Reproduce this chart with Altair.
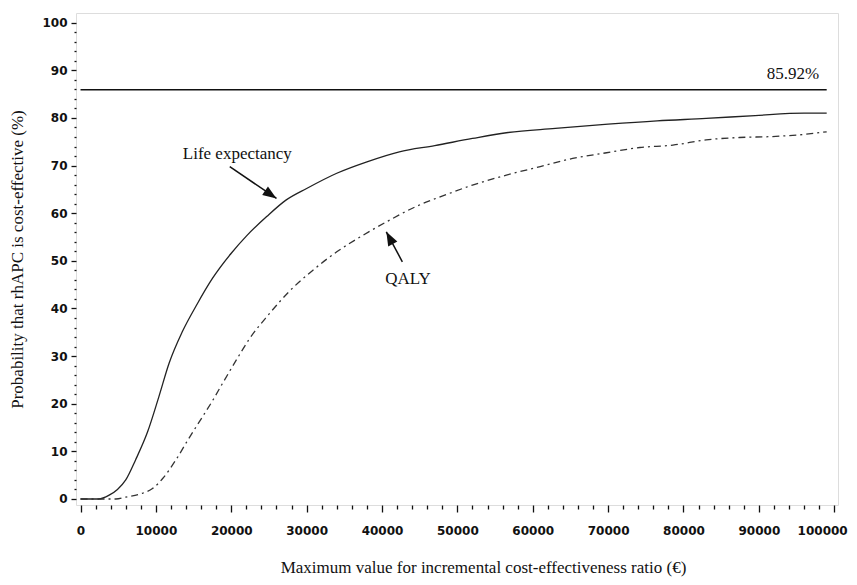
import altair as alt
import pandas as pd

# Life expectancy curve (solid)
le_x = [0, 2400, 3800, 4900, 6000, 7300, 8900, 10400, 11750, 13500, 15500, 17500, 20000, 22000,
        24700, 27300, 30000, 34000, 38000, 42300, 47000, 52000, 56500, 63000, 70000, 76500,
        83000, 89500, 96000, 99000]
le_y = [0, 0, 0.8, 2.0, 4.0, 8.2, 14.1, 21.5, 28.5, 35.1, 41.0, 46.3, 51.6, 55.2,
        59.3, 62.8, 65.2, 68.4, 70.8, 72.9, 74.2, 75.7, 76.9, 77.8, 78.7, 79.4,
        79.9, 80.5, 81.0, 81.0]

# QALY curve (dash-dot)
q_x = [0, 4700, 6000, 8200, 9550, 10900, 12650, 14400, 16200, 17500, 18850, 20600, 22400, 25000,
       27700, 30800, 34000, 37500, 40600, 44500, 48500, 52000, 56500, 61000, 65300, 69800,
       74200, 78600, 83000, 87400, 91800, 96300, 99000]
q_y = [0, 0, 0.4, 1.2, 2.2, 4.3, 8.2, 12.8, 17.3, 20.6, 24.3, 29.0, 33.6, 38.8,
       43.6, 48.0, 51.9, 55.4, 58.2, 61.4, 63.9, 65.9, 68.0, 69.8, 71.5, 72.7,
       73.8, 74.3, 75.4, 75.9, 76.1, 76.6, 77.1]

# reference level
ref_value = 85.92
ref_x = [0, 99000]
ref_label = "85.92%"

# annotations (data units)
ann_text = ["Life expectancy", "QALY", ref_label]
ann_x = [20800, 43450, 98000]
ann_y = [72.4, 46.1, 89.2]
ann_align = ["center", "center", "right"]

arrow_tail_x = [19800, 42700]
arrow_tail_y = [69.8, 49.8]
arrow_tip_x = [26000, 40570]
arrow_tip_y = [63.1, 56.1]
arrow_angle = [124, 332]

x_ticks = list(range(0, 100001, 2000))
y_ticks = list(range(0, 101, 2))

xscale = alt.Scale(domain=[-600, 100500], nice=False, zero=False)
yscale = alt.Scale(domain=[-1.26, 102.04], nice=False, zero=False)

TICK_FONT = "DejaVu Sans"
TEXT_FONT = "Liberation Serif"

xaxis = alt.Axis(
    values=x_ticks,
    labelExpr="datum.value % 10000 === 0 ? datum.label : ''",
    format="d",
    tickSize={"condition": {"test": "datum.value % 10000 === 0", "value": 7}, "value": 4},
    tickColor="#111", tickWidth=1.3,
    labelFont=TICK_FONT, labelFontWeight="bold", labelFontSize=12, labelColor="#111",
    labelAlign={"condition": {"test": "datum.value === 100000", "value": "right"}, "value": "center"},
    labelOffset={"condition": {"test": "datum.value === 100000", "value": 13}, "value": 0},
    labelPadding=13, labelOverlap=False, labelFlush=False, labelBound=False,
    domain=False, grid=False,
    title="Maximum value for incremental cost-effectiveness ratio (€)",
    titleFont=TEXT_FONT, titleFontSize=17, titleFontWeight="normal", titleColor="#111",
    titleBaseline="alphabetic", titleY=67, titleX=407, titleAlign="center",
)
yaxis = alt.Axis(
    values=y_ticks,
    labelExpr="datum.value % 10 === 0 ? datum.label : ''",
    format="d",
    tickSize={"condition": {"test": "datum.value % 10 === 0", "value": 5}, "value": 2},
    tickColor="#111", tickWidth=1.3,
    labelFont=TICK_FONT, labelFontWeight="bold", labelFontSize=12, labelColor="#111",
    labelPadding=4, labelOverlap=False, labelFlush=False, labelBound=False,
    domain=False, grid=False,
    title="Probability that rhAPC is cost-effective (%)",
    titleFont=TEXT_FONT, titleFontSize=17, titleFontWeight="normal", titleColor="#111",
    titleX=-50, titleY=246, titleAngle=-90, titleAlign="center", titleBaseline="bottom",
)


def X(field):
    return alt.X(field, type="quantitative", scale=xscale, axis=xaxis)


def Y(field):
    return alt.Y(field, type="quantitative", scale=yscale, axis=yaxis)


le_df = pd.DataFrame({"x": le_x, "y": le_y})
q_df = pd.DataFrame({"x": q_x, "y": q_y})
ref_df = pd.DataFrame({"x": [ref_x[0]], "x2": [ref_x[1]], "y": [ref_value]})
ann_df = pd.DataFrame({"text": ann_text, "x": ann_x, "y": ann_y, "align": ann_align})
arr_df = pd.DataFrame({"x": arrow_tail_x, "y": arrow_tail_y, "x2": arrow_tip_x,
                       "y2": arrow_tip_y, "angle": arrow_angle})

le_line = alt.Chart(le_df).mark_line(color="#222", strokeWidth=1.3, interpolate="monotone").encode(
    x=X("x"), y=Y("y"),
)
q_line = alt.Chart(q_df).mark_line(color="#333", strokeWidth=1.3, strokeDash=[7, 4, 2, 4],
                                   interpolate="monotone").encode(
    x=X("x"), y=Y("y"),
)
ref_rule = alt.Chart(ref_df).mark_rule(color="#111", strokeWidth=1.5).encode(
    x=X("x"), x2="x2:Q", y=Y("y")
)
texts_c = alt.Chart(ann_df[ann_df["align"] == "center"]).mark_text(
    font=TEXT_FONT, fontSize=17, color="#111", align="center", baseline="middle"
).encode(x=X("x"), y=Y("y"), text="text:N")
texts_r = alt.Chart(ann_df[ann_df["align"] == "right"]).mark_text(
    font=TEXT_FONT, fontSize=17, color="#111", align="right", baseline="middle"
).encode(x=X("x"), y=Y("y"), text="text:N")
arrow_shaft = alt.Chart(arr_df).mark_rule(color="#111", strokeWidth=1.5).encode(
    x=X("x"), y=Y("y"), x2="x2:Q", y2="y2:Q"
)
arrow_head = alt.Chart(arr_df).mark_point(
    shape="M0,0 L-0.75,2 L0.75,2 Z", filled=True, color="#111", opacity=1, size=190, strokeWidth=0
).encode(
    x=X("x2"), y=Y("y2"), angle=alt.Angle("angle:Q", scale=None)
)

chart = alt.layer(ref_rule, le_line, q_line, arrow_shaft, arrow_head, texts_c, texts_r).properties(
    width=762, height=492,
    autosize="none",
    padding={"left": 68, "top": 5, "right": 11, "bottom": 72},
).configure_view(stroke="#111", strokeWidth=1.5).configure(background="white")

chart.save("out.html", embed_options={"renderer": "svg", "actions": False})
